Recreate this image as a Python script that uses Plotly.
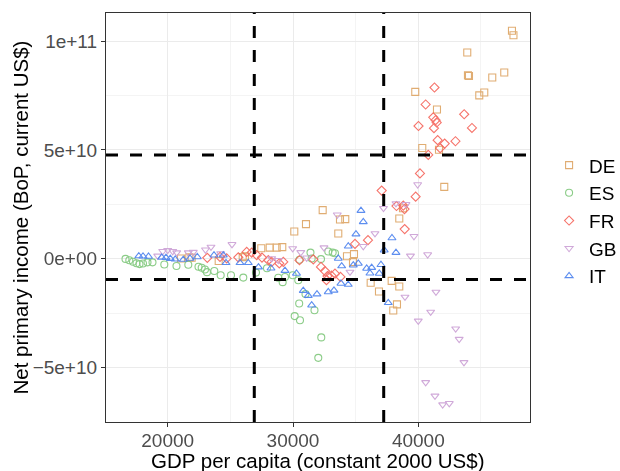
import plotly.graph_objects as go

# ---- data (GDP per capita, constant 2000 US$; net primary income, billions current US$) ----
countries = ["DE", "ES", "FR", "GB", "IT"]

de_gdp = [47475, 47595, 43908, 44044, 43964, 45903, 46861, 39758, 44866, 45265, 41490, 40317, 41650,
          42073, 38482, 38777, 32369, 31036, 30103, 33750, 34172, 33614, 29145, 28698, 28140, 27469,
          26169, 25985, 34308, 34867, 34787, 36199, 36862, 37875, 38482, 38298, 38003, 24070, 21915,
          21724, 21061]
de_inc = [104.8, 102.7, 94.8, 84.0, 84.3, 83.3, 85.6, 76.7, 75.1, 76.4, 68.6, 50.9, 50.1,
          33.0, 18.5, 23.2, 22.3, 15.9, 12.5, 18.0, 18.2, 11.6, 5.3, 5.1, 5.1, 4.8,
          1.1, 0.7, 1.1, 2.1, -1.6, -11.1, -15.1, -10.2, -12.8, -21.0, -23.8, -1.1, 0.4,
          0.6, 0.1]

es_gdp = [16632, 16936, 17231, 17510, 17750, 18029, 18388, 18787, 19729, 20702, 21644, 22458, 22713,
          22977, 23136, 23719, 24229, 25051, 26033, 27046, 28826, 29177, 29361, 29975, 30422, 30518,
          31395, 31491, 32233, 32816, 33167, 30996, 30494, 30135, 30558, 31715, 32257, 32018, 33351,
          27924]
es_inc = [-0.1, -0.7, -1.4, -2.1, -2.5, -2.2, -1.7, -1.7, -2.7, -3.4, -2.8, -3.7, -4.2,
          -5.0, -6.2, -5.7, -7.6, -7.6, -8.7, -6.4, -8.8, -10.8, -8.4, -7.6, -9.9, -0.5,
          2.8, 0.1, -0.2, 3.3, 2.8, -16.3, -20.6, -26.4, -28.3, -23.7, -36.2, -45.6, 2.5,
          -4.4]

fr_gdp = [41291, 40588, 41195, 41386, 41466, 41251, 40014, 43661, 44283, 41546, 42105, 42966, 41746,
          40796, 40134, 39790, 38258, 38801, 38897, 38913, 37077, 35984, 34947, 30518, 31619, 32233,
          32553, 32752, 33071, 33351, 33789, 26304, 26703, 27102, 27525, 28028, 28299, 28906, 29225,
          25634, 24174, 23160, 24708, 32672]
fr_inc = [78.7, 70.9, 65.0, 63.7, 62.6, 60.0, 61.0, 66.4, 60.1, 54.5, 52.9, 54.0, 50.8,
          47.7, 39.2, 28.5, 24.2, 24.4, 22.8, 13.6, 31.3, 8.5, 6.8, -0.7, -0.3, -3.8,
          -5.7, -8.0, -7.8, -6.9, -8.4, 3.1, 2.8, 1.6, 0.5, -0.7, -1.5, -2.2, -1.5,
          0.6, 0.8, 0.4, 0.1, -9.9]

gb_gdp = [39950, 37221, 38218, 39016, 33534, 36543, 35609, 39655, 39375, 40748, 29975, 30621, 32473,
          25131, 23455, 23016, 22043, 21644, 20718, 20399, 20000, 19601, 19202, 28299, 28826, 31092,
          34548, 38937, 41410, 40987, 39998, 42982, 43262, 43645, 40588, 41331, 41945, 42472, 24229]
gb_inc = [34.1, 23.2, 25.4, 25.0, 20.2, 11.6, 5.7, 10.3, 1.3, 1.9, 4.7, 2.9, 5.1,
          6.6, 5.4, 4.1, 3.0, 2.8, 2.8, 3.4, 3.9, 3.4, 1.3, 0.1, -0.7, 0.4,
          -6.1, -17.6, -15.3, -24.5, -28.6, -32.2, -37.0, -47.7, -56.9, -63.1, -67.1, -66.5, 2.4]

it_gdp = [17694, 18029, 18468, 19521, 19864, 20207, 20599, 21245, 21780, 22362, 23695, 24437, 24652,
          25770, 26432, 27246, 28243, 29361, 30278, 30821, 31220, 31914, 32816, 33271, 33829, 34412,
          31491, 37604, 33614, 34412, 35026, 35609, 35425, 37899, 37277, 38218, 33885, 34811, 35210,
          35880, 36279, 37021, 36886, 36144]
it_inc = [1.2, 1.1, 1.0, 0.6, 0.5, 0.0, -0.3, -0.4, 0.1, 0.8, 1.6, 1.6, -1.9,
          -1.9, -1.9, -3.9, -4.4, -5.5, -6.8, -14.7, -17.0, -16.3, -15.3, -14.6, -11.4, -11.9,
          -21.4, -20.3, 0.1, 5.7, 11.3, 16.9, 22.1, 9.5, 3.9, 2.8, -3.4, -3.0, -2.2,
          -4.5, -4.1, -2.8, -6.8, -6.7]

gdp_cuts = [26910, 37240]          # vertical dashed reference lines
income_cuts = [47.7e9, -9.56e9]    # horizontal dashed reference lines

x_ticks = [20000, 30000, 40000]
y_ticks = [-5e10, 0, 5e10, 1e11]
y_ticktext = ["\u22125e+10", "0e+00", "5e+10", "1e+11"]
x_title = "GDP per capita (constant 2000 US$)"
y_title = "Net primary income (BoP, current US$)"

# ---- styling ----
series = [
    ("DE", de_gdp, de_inc, "square-open", "#DDA463"),
    ("ES", es_gdp, es_inc, "circle-open", "#7FC77B"),
    ("FR", fr_gdp, fr_inc, "diamond-open", "#F5645A"),
    ("GB", gb_gdp, gb_inc, "triangle-down-open", "#CBA0D5"),
    ("IT", it_gdp, it_inc, "triangle-up-open", "#4C82EE"),
]

fig = go.Figure()
for name, gx, gy, sym, col in series:
    fig.add_trace(go.Scatter(
        x=gx, y=[v * 1e9 for v in gy], mode="markers", name=name,
        legendgroup=name,
        marker=dict(symbol=sym, size=7, color=col, line=dict(width=1.1, color=col)),
        opacity=0.9,
    ))

for v in gdp_cuts:
    fig.add_shape(type="line", xref="x", yref="paper", x0=v, x1=v, y0=0, y1=1,
                  line=dict(color="black", width=3, dash="12px,12px"), layer="above")
for v in income_cuts:
    fig.add_shape(type="line", xref="paper", yref="y", x0=0, x1=1, y0=v, y1=v,
                  line=dict(color="black", width=3, dash="12px,12px"), layer="above")

# axis titles as annotations for exact placement
fig.add_annotation(text=x_title, xref="paper", yref="paper", x=0.5, y=-0.0953,
                   xanchor="center", yanchor="middle", showarrow=False,
                   font=dict(size=20.5, color="black"))
fig.add_annotation(text=y_title, xref="paper", yref="paper", x=-0.2028, y=0.5,
                   xanchor="center", yanchor="middle", showarrow=False, textangle=-90,
                   font=dict(size=20.5, color="black"))

font_family = "Liberation Sans, Arial, sans-serif"
fig.update_layout(
    width=620, height=471,
    margin=dict(l=106, r=90, t=13, b=49, pad=0, autoexpand=False),
    paper_bgcolor="white", plot_bgcolor="white",
    font=dict(family=font_family, color="black"),
    showlegend=True,
    legend=dict(x=1.045, y=0.492, xanchor="left", yanchor="middle",
                font=dict(size=19, color="black"), tracegroupgap=0,
                bgcolor="rgba(0,0,0,0)", borderwidth=0),
    xaxis=dict(
        range=[15076, 48915], tickvals=x_ticks, ticktext=[str(t) for t in x_ticks],
        automargin=False, ticklabelstandoff=-3,
        showgrid=True, gridcolor="#EBEBEB", gridwidth=1.2,
        minor=dict(tickvals=[15000, 25000, 35000, 45000], showgrid=True, gridcolor="#F4F4F4", gridwidth=0.8, ticks=""),
        zeroline=False, showline=True, mirror=True, linecolor="#333333", linewidth=1.2,
        ticks="outside", ticklen=4, tickcolor="#333333", tickwidth=1,
        tickfont=dict(size=19, color="#4D4D4D"),
    ),
    yaxis=dict(
        range=[-75.1e9, 112.96e9], tickvals=y_ticks, ticktext=y_ticktext,
        automargin=False,
        showgrid=True, gridcolor="#EBEBEB", gridwidth=1.2,
        minor=dict(tickvals=[-7.5e10, -2.5e10, 2.5e10, 7.5e10], showgrid=True, gridcolor="#F4F4F4", gridwidth=0.8, ticks=""),
        zeroline=False, showline=True, mirror=True, linecolor="#333333", linewidth=1.2,
        ticks="outside", ticklen=4, tickcolor="#333333", tickwidth=1,
        tickfont=dict(size=19, color="#4D4D4D"),
    ),
)

fig.write_html("out.html")
